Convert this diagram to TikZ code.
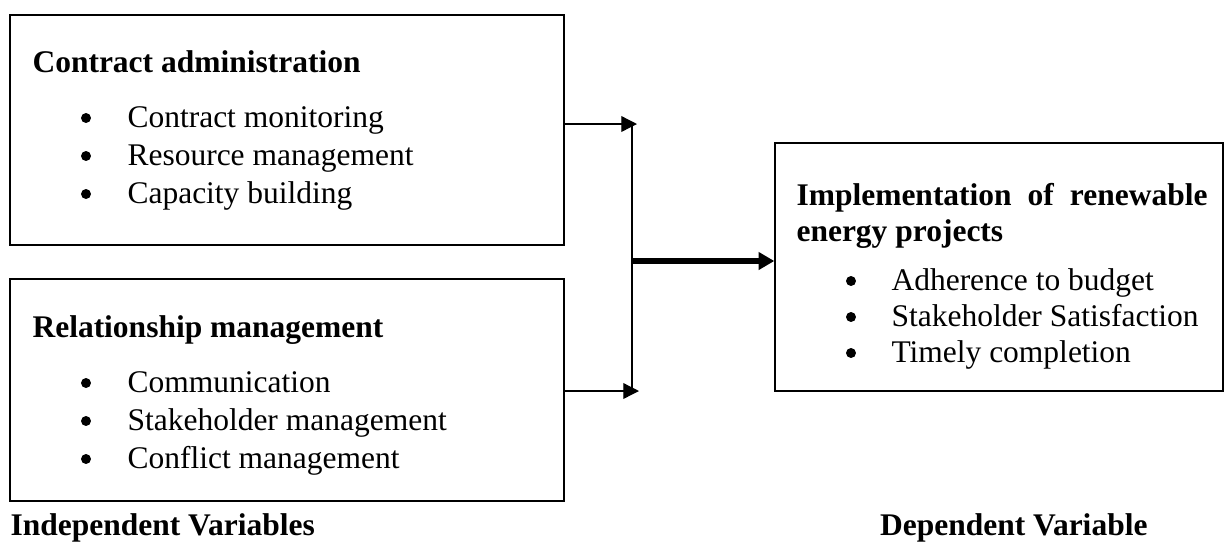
\documentclass[tikz,border=0pt]{standalone}
\usepackage{fontspec}
\setmainfont{Liberation Serif}
\usetikzlibrary{arrows.meta}

\tikzset{
  varbox/.style={draw, line width=0.5pt, inner sep=0pt},
  txt/.style={anchor=base west, inner sep=0pt, font=\fontsize{12}{14}\selectfont},
  hd/.style={txt, font=\fontsize{12}{14}\selectfont\bfseries},
  thinarrow/.style={line width=0.5pt, -{Triangle[length=6pt,width=6pt]}},
  thickarrow/.style={line width=2pt, -{Triangle[length=6pt,width=6.5pt]}}
}

\begin{document}
\begin{tikzpicture}[x=0.381pt, y=-0.381pt]
\useasboundingbox (0,0) rectangle (1225,543);

% independent variables
\node[varbox, minimum width=211.1pt, minimum height=87.6pt] (ca) at (287,130) {};
\node[hd] (catitle) at (32,72) {Contract administration};
\node[txt] (ca1) at (127,127) {Contract monitoring};
\node[txt] (ca2) at (127,165) {Resource management};
\node[txt] (ca3) at (127,203) {Capacity building};

\node[varbox, minimum width=211.1pt, minimum height=84.6pt] (rm) at (287,390) {};
\node[hd] (rmtitle) at (32,337) {Relationship management};
\node[txt] (rm1) at (127,392) {Communication};
\node[txt] (rm2) at (127,430) {Stakeholder management};
\node[txt] (rm3) at (127,468) {Conflict management};

% dependent variable
\node[varbox, minimum width=170.7pt, minimum height=94.5pt] (irep) at (999,267) {};
\node[hd] (ireptitle) at (796,205) {\makebox[156.6pt][s]{Implementation of renewable}};
\node[hd] (ireptitleb) at (796,241) {energy projects};
\node[txt] (irep1) at (891,290) {Adherence to budget};
\node[txt] (irep2) at (891,326) {Stakeholder Satisfaction};
\node[txt] (irep3) at (891,362) {Timely completion};

% bullets
\foreach \y in {118,156,194,383,421,459}
  \fill (86,\y) circle [radius=1.9pt];
\foreach \y in {281,317,353}
  \fill (851,\y) circle [radius=1.9pt];

\node[hd] (indep) at (10,535) {Independent Variables};
\node[hd, anchor=base east] (dep) at (1148,535) {Dependent Variable};

% connectors
\coordinate (bartop) at (632,123);
\coordinate (barbot) at (632,391);
\coordinate (barmid) at (632,261);
\coordinate (jt) at (637,124);
\coordinate (jb) at (639,391);
\draw[line width=0.6pt] (bartop) -- (barbot);
\draw[thinarrow] (ca.east |- jt) -- (jt);
\draw[thinarrow] (rm.east |- jb) -- (jb);
\draw[thickarrow] (barmid) -- (barmid -| irep.west);
\end{tikzpicture}
\end{document}
